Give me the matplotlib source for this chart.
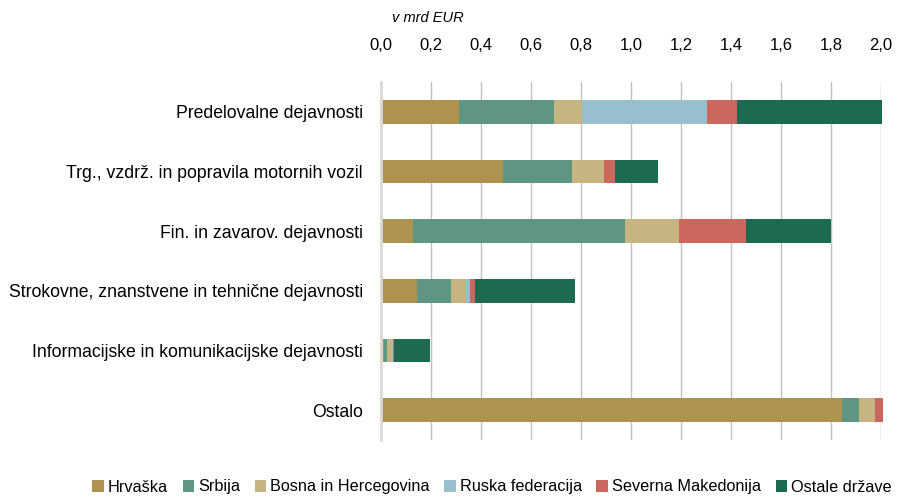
import matplotlib
matplotlib.use("Agg")
import matplotlib.pyplot as plt
import numpy as np

plt.rcParams['font.family'] = ['Liberation Sans', 'DejaVu Sans']

categories = [
    "Predelovalne dejavnosti",
    "Trg., vzdrž. in popravila motornih vozil",
    "Fin. in zavarov. dejavnosti",
    "Strokovne, znanstvene in tehnične dejavnosti",
    "Informacijske in komunikacijske dejavnosti",
    "Ostalo",
]
series_names = ["Hrvaška", "Srbija", "Bosna in Hercegovina", "Ruska federacija",
                "Severna Makedonija", "Ostale države"]
hrvaska = [0.311, 0.487, 0.126, 0.142, 0.012, 1.842]
srbija = [0.380, 0.277, 0.849, 0.137, 0.013, 0.071]
bih = [0.114, 0.126, 0.217, 0.062, 0.018, 0.061]
rusija = [0.500, 0.000, 0.000, 0.015, 0.004, 0.000]
makedonija = [0.120, 0.046, 0.269, 0.021, 0.004, 0.033]
ostale = [0.579, 0.171, 0.340, 0.397, 0.146, 0.000]
xticks = [0.0, 0.2, 0.4, 0.6, 0.8, 1.0, 1.2, 1.4, 1.6, 1.8, 2.0]
xticklabels = ["0,0", "0,2", "0,4", "0,6", "0,8", "1,0", "1,2", "1,4", "1,6", "1,8", "2,0"]

colors = ["#AE9250", "#5F9683", "#C6B482", "#97BFCE", "#CB685E", "#1C6A4F"]
data = [hrvaska, srbija, bih, rusija, makedonija, ostale]

fig = plt.figure(figsize=(8.98, 5.0), dpi=100)
ax = fig.add_axes([381/898, 1-440/500, 500/898, 358/500])

y = np.arange(len(categories))
left = np.zeros(len(categories))
for vals, name, c in zip(data, series_names, colors):
    ax.barh(y, vals, left=left, height=0.4, color=c, label=name, zorder=3, clip_on=False)
    left += np.array(vals)

ax.set_xlim(0, 2.0)
ax.set_ylim(5.5, -0.5)
ax.set_yticks(y)
ax.set_yticklabels(categories, fontsize=12.7)
ax.set_xticks(xticks)
ax.set_xticklabels(xticklabels, fontsize=12)
ax.xaxis.tick_top()
ax.tick_params(axis='x', length=0, pad=21)
ax.tick_params(axis='y', length=0, pad=13)
ax.grid(axis='x', color='#c0c0c0', linewidth=1.0, zorder=0)
for s in ['top', 'right', 'bottom']:
    ax.spines[s].set_visible(False)
ax.spines['left'].set_color('#d9d9d9')
ax.spines['left'].set_linewidth(2)
ax.spines['left'].set_zorder(4)

fig.text(428/898, 1-18/500, "v mrd EUR", fontsize=10.5, style='italic', ha='center', va='center')

handles, labels = ax.get_legend_handles_labels()
fig.legend(handles, labels, loc='center', bbox_to_anchor=(492/898, 1-487/500), ncol=6,
           frameon=False, fontsize=11.7, handlelength=0.7, handleheight=0.7,
           handletextpad=0.25, columnspacing=0.9)

fig.savefig("out.png", dpi=100)
